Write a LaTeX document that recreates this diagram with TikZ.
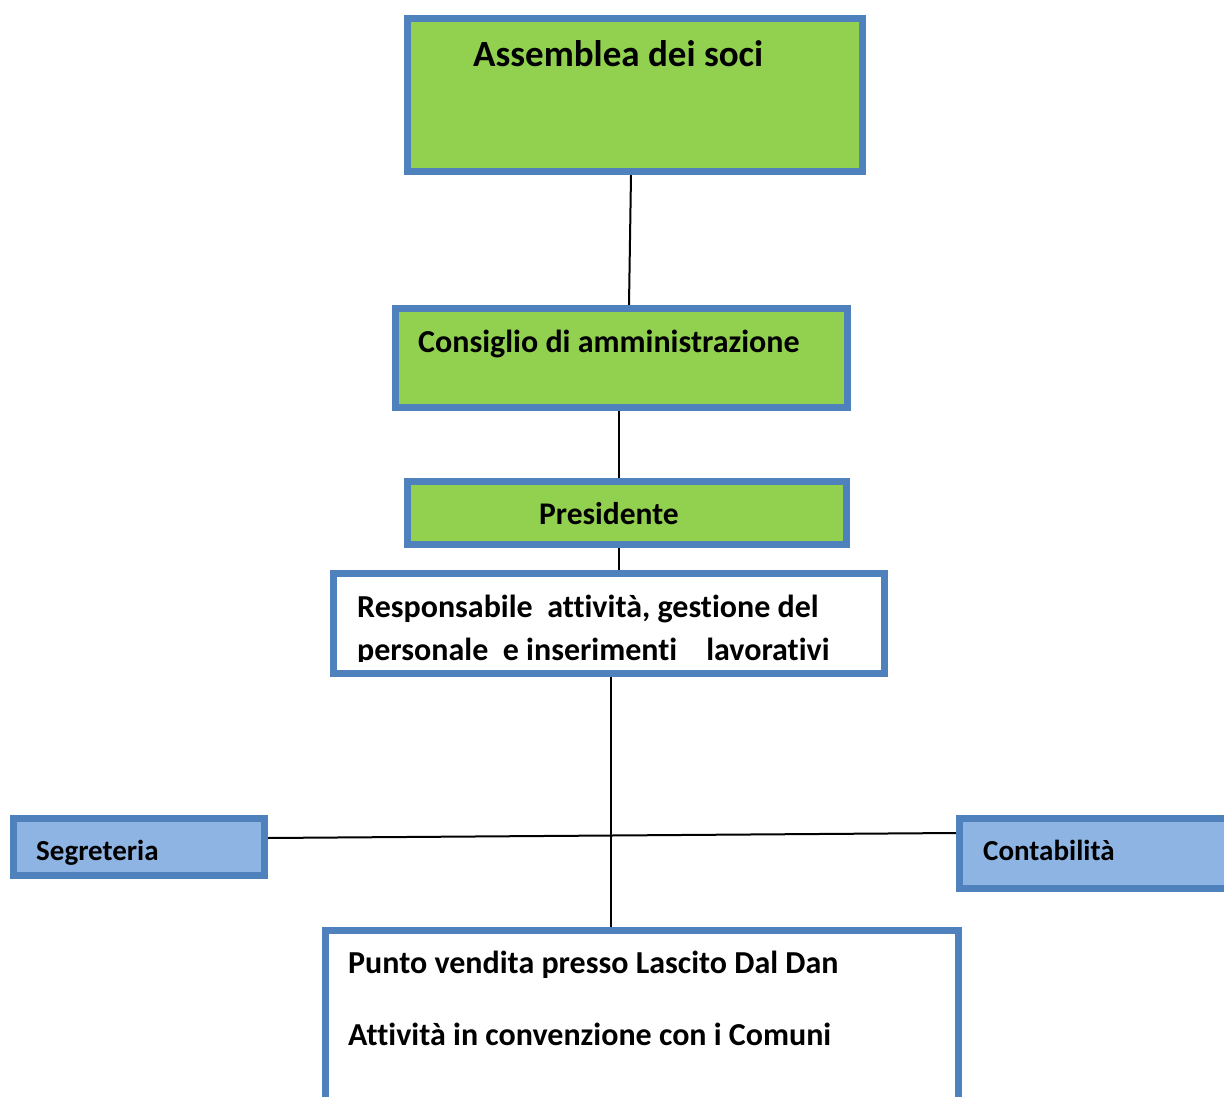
\documentclass[tikz,border=0pt]{standalone}
\usepackage{fontspec}
\setmainfont{Carlito}[RawFeature={-liga;-clig;-dlig}]
\pgfdeclarelayer{background}
\pgfsetlayers{background,main}
\definecolor{boxgreen}{HTML}{92D050}
\definecolor{boxblue}{HTML}{4F81BD}
\definecolor{lightblue}{HTML}{8EB4E3}
\tikzset{
  orgbox/.style={draw=boxblue, line width=7pt, rectangle, inner sep=0pt},
  greenbox/.style={orgbox, fill=boxgreen},
  whitebox/.style={orgbox, fill=white},
  bluebox/.style={orgbox, fill=lightblue},
  label/.style={anchor=base west, inner sep=0pt, font=\bfseries},
  link/.style={draw=black, line width=2pt}
}
\begin{document}
\begin{tikzpicture}[x=1pt,y=-1pt]
\useasboundingbox (0,0) rectangle (1224,1097);
\clip (0,0) rectangle (1224,1097);
% boxes
\node[greenbox, minimum width=455pt, minimum height=153pt] (asm) at (635,95) {};
\node[greenbox, minimum width=452pt, minimum height=99pt] (cda) at (621.5,358) {};
\node[greenbox, minimum width=439pt, minimum height=63pt] (pres) at (627,513) {};
\node[whitebox, minimum width=551pt, minimum height=100pt] (resp) at (609,623.5) {};
\node[bluebox, minimum width=251pt, minimum height=57pt] (seg) at (139,847) {};
\node[bluebox, minimum width=337pt, minimum height=70pt] (cont) at (1128,853.5) {};
\node[whitebox, minimum width=633pt, minimum height=216pt] (punto) at (642,1038.5) {};
% texts
\node[label, font=\bfseries\fontsize{37}{44}\selectfont] (tasm) at (473,67) {Assemblea dei soci};
\node[label, font=\bfseries\fontsize{32}{38}\selectfont] (tcda) at (418,352) {Consiglio di amministrazione};
\node[label, font=\bfseries\fontsize{31.5}{38}\selectfont] (tpres) at (539,524) {Presidente};
\begin{scope}
\clip (334,574) rectangle (884,661);
\node[label, font=\bfseries\fontsize{32}{38}\selectfont] (tresp1) at (357,617) {Responsabile\ \ attività, gestione del};
\node[label, font=\bfseries\fontsize{32}{38}\selectfont] (tresp2) at (357,660) {personale\ \ e inserimenti\ \ \ \ lavorativi};
\end{scope}
\node[label, font=\bfseries\fontsize{29}{35}\selectfont] (tseg) at (36,860) {Segreteria};
\node[label, font=\bfseries\fontsize{29}{35}\selectfont] (tcont) at (983,860) {Contabilità};
\node[label, font=\bfseries\fontsize{32}{38}\selectfont] (tpunto1) at (348,973) {Punto vendita presso Lascito Dal Dan};
\node[label, font=\bfseries\fontsize{32}{38}\selectfont] (tpunto2) at (348,1045) {Attività in convenzione con i Comuni};
% connectors
\begin{pgfonlayer}{background}
\draw[link] ([xshift=-4pt]asm.south) -- ([xshift=7.5pt]cda.north);
\draw[link] ([xshift=-2.5pt]cda.south) -- ([xshift=-8pt]pres.north);
\draw[link] ([xshift=-8pt]pres.south) -- ([xshift=10pt]resp.north);
\draw[link] ([xshift=2pt]resp.south) -- ([xshift=-31pt]punto.north);
\draw[link] ([yshift=9pt]seg.east) -- ([yshift=20.5pt]cont.west);
\end{pgfonlayer}
\end{tikzpicture}
\end{document}
